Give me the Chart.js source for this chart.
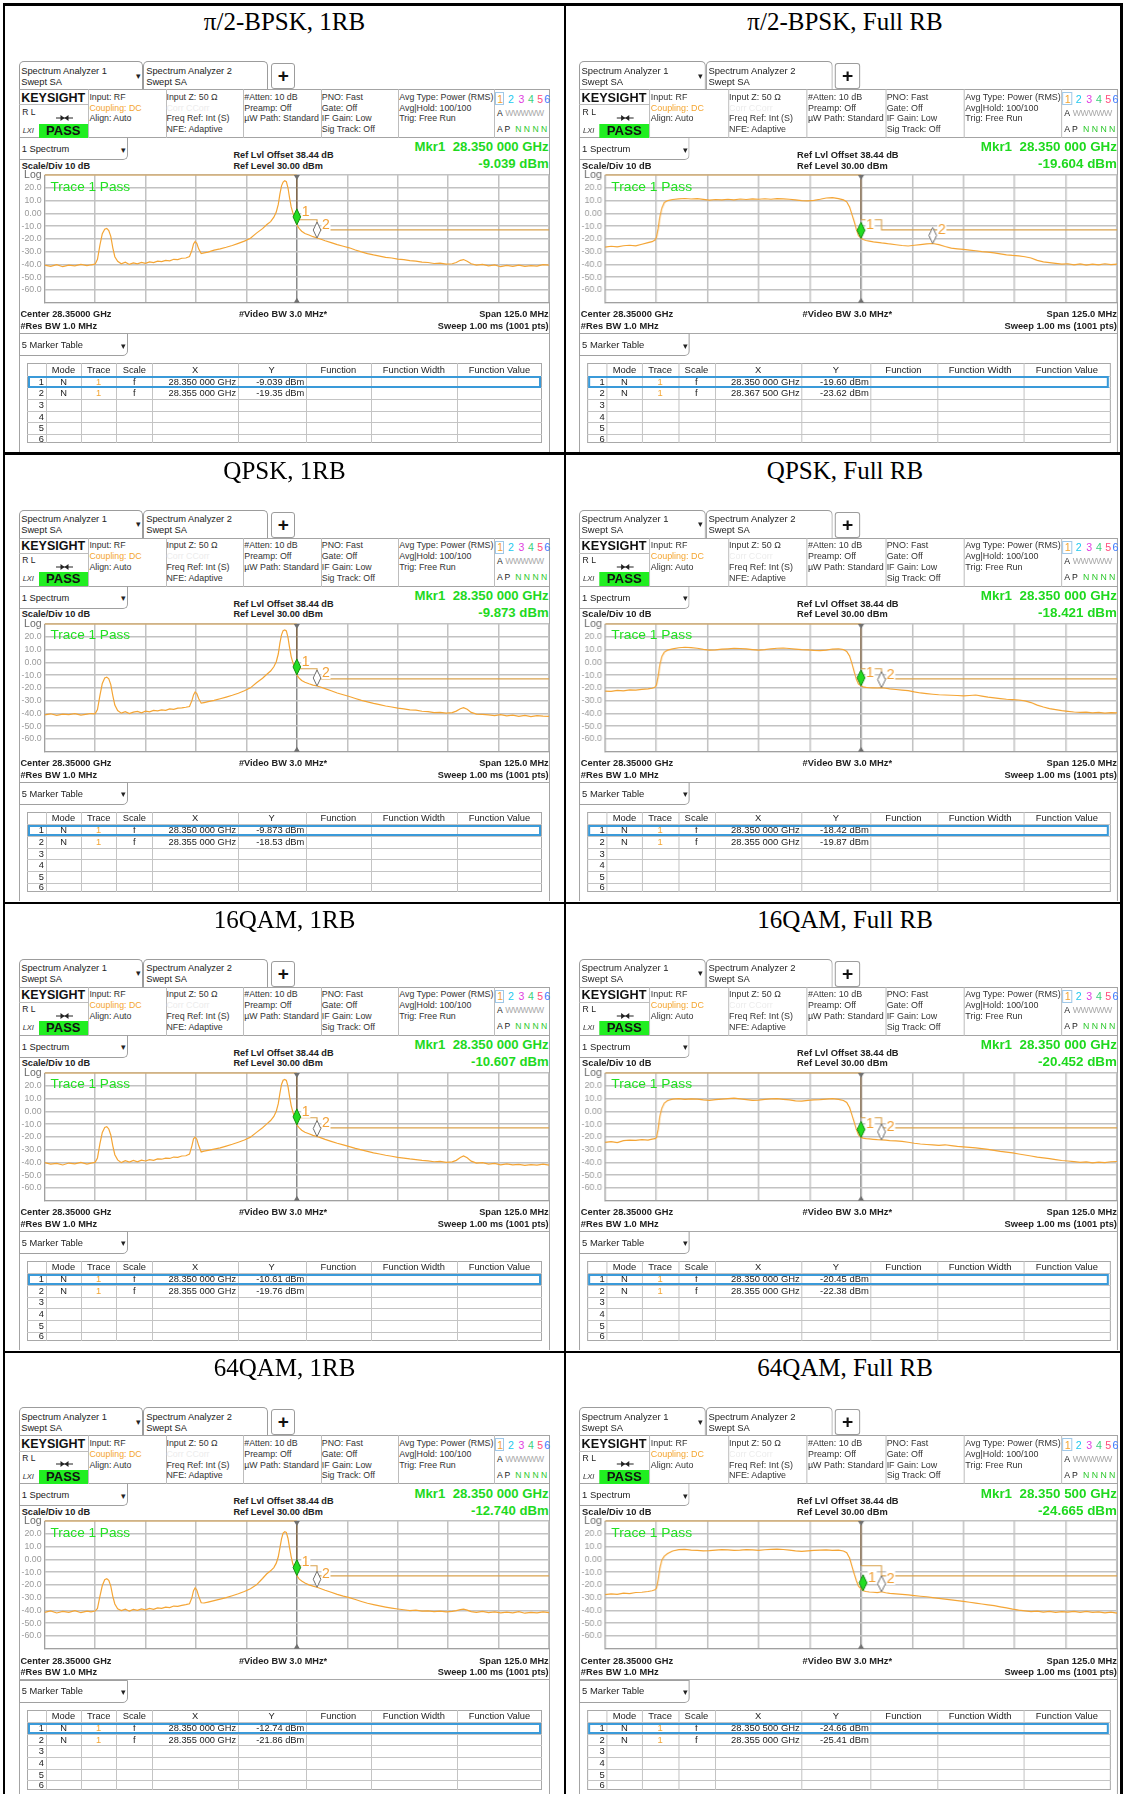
<!DOCTYPE html>
<html lang="en">
<head>
<meta charset="UTF-8" />
<title>Spectrum captures, 28.35 GHz</title>
<script src="https://cdn.jsdelivr.net/npm/chart.js"></script>
<style>
  body { margin: 0; background: #fff; font-family: Arial, "Liberation Sans", sans-serif; color: #222; }
  #page { position: relative; width: 1124px; height: 1794px; overflow: hidden; background: #fff; }
</style>
</head>
<body>
<div id="page"></div>
<script>
  const panelTitles = ['π/2-BPSK, 1RB', 'π/2-BPSK, Full RB', 'QPSK, 1RB', 'QPSK, Full RB',
                       '16QAM, 1RB', '16QAM, Full RB', '64QAM, 1RB', '64QAM, Full RB'];
  const mkr1Freq = ['28.350 000 GHz', '28.350 000 GHz', '28.350 000 GHz', '28.350 000 GHz',
                    '28.350 000 GHz', '28.350 000 GHz', '28.350 000 GHz', '28.350 500 GHz'];
  const mkr1Level = ['-9.039 dBm', '-19.604 dBm', '-9.873 dBm', '-18.421 dBm',
                     '-10.607 dBm', '-20.452 dBm', '-12.740 dBm', '-24.665 dBm'];
  // marker positions, MHz from centre / dBm
  const m1X = [0, 0, 0, 0, 0, 0, 0, 0.5];
  const m1Y = [-9.039, -19.60, -9.873, -18.42, -10.61, -20.45, -12.74, -24.66];
  const m2X = [5, 17.5, 5, 5, 5, 5, 5, 5];
  const m2Y = [-19.35, -23.62, -18.53, -19.87, -19.76, -22.38, -21.86, -25.41];
  const m1XText = ['28.350 000 GHz', '28.350 000 GHz', '28.350 000 GHz', '28.350 000 GHz',
                   '28.350 000 GHz', '28.350 000 GHz', '28.350 000 GHz', '28.350 500 GHz'];
  const m2XText = ['28.355 000 GHz', '28.367 500 GHz', '28.355 000 GHz', '28.355 000 GHz',
                   '28.355 000 GHz', '28.355 000 GHz', '28.355 000 GHz', '28.355 000 GHz'];
  const m1YText = ['-9.039 dBm', '-19.60 dBm', '-9.873 dBm', '-18.42 dBm',
                   '-10.61 dBm', '-20.45 dBm', '-12.74 dBm', '-24.66 dBm'];
  const m2YText = ['-19.35 dBm', '-23.62 dBm', '-18.53 dBm', '-19.87 dBm',
                   '-19.76 dBm', '-22.38 dBm', '-21.86 dBm', '-25.41 dBm'];

  // limit line
  const limitX = [-62.5, 0, 0, 5, 5, 62.5];
  const limitY = [30, 30, -5, -5, -13, -13];

  // frequency offsets (MHz from 28.35 GHz)
  const freq1rb = [
    -62.5, -61, -59.5, -58, -56.5, -55, -53.5, -52, -51, -50,
    -49.4, -48.8, -48.2, -47.6, -47.1, -46.6, -46.1, -45.6, -45.1, -44.4,
    -43.5, -42.5, -41.5, -40.5, -39.5, -38.5, -37.5, -36.5, -35.5, -34.5,
    -33.5, -32.5, -31.5, -30.5, -29.5, -28.5, -27.5, -26.6, -26, -25.6,
    -25.2, -24.8, -24.3, -23.7, -23, -22, -20.5, -19, -17.5, -16,
    -14.5, -13, -11.5, -10, -8.5, -7.5, -6.5, -5.7, -5.1, -4.6,
    -4.2, -3.8, -3.4, -3, -2.6, -2.2, -1.8, -1.4, -1, -0.5,
    0, 0.6, 1.2, 2, 3, 4, 5, 6, 7, 8.5,
    10, 11.5, 13, 14.5, 16, 17.5, 19, 20.5, 22, 23.5,
    25, 26.5, 28, 29.5, 31, 32.5, 34, 35.5, 37, 38.5,
    39.5, 40.5, 41.3, 42.2, 43.2, 44.5, 46, 47.5, 49, 50.5,
    52, 53.5, 55, 56.5, 58, 59.5, 61, 62.5
  ];
  const freqFull = [
    -62.5, -61, -59.5, -58, -56.5, -55, -53.5, -52, -51, -50.3,
    -49.9, -49.5, -49.1, -48.6, -48, -47.2, -46, -44.5, -43, -41.5,
    -40, -38.5, -37, -35.5, -34, -32.5, -31, -29.5, -28, -26.5,
    -25, -23.5, -22, -20.5, -19, -17.5, -16, -14.5, -13, -11.5,
    -10, -8.5, -7, -5.5, -4.3, -3.5, -2.8, -2.2, -1.6, -1.1,
    -0.6, 0, 0.5, 1.2, 2, 3, 4, 5, 6, 7,
    8.5, 10, 11.5, 13, 14.5, 16, 17.5, 19, 20.5, 22,
    23.5, 25, 26.5, 28, 29.5, 31, 32.5, 34, 35.5, 37,
    38.5, 40, 41.5, 43, 44.5, 46, 47.5, 49, 50.5, 52,
    53.5, 55, 56.5, 58, 59.5, 61, 62.5
  ];

  // trace levels, dBm
  const levelBpsk1rb = [
    -40.5, -41.5, -40.2, -41.8, -40.6, -41.2, -40.0, -41.0, -40.3, -39.8,
    -36, -25, -16, -12.5, -11.8, -13.5, -18, -27, -34, -37.5,
    -39.5, -38.2, -40.0, -38.8, -39.6, -38.5, -39.2, -38.0, -38.6, -37.5,
    -37.8, -36.9, -37.2, -36.0, -36.3, -35.2, -35.0, -33.8, -29, -24,
    -22, -23.5, -28, -31.5, -31, -30.4, -28.8, -27.8, -26.6, -25.2,
    -23.5, -21.8, -19.5, -15.5, -12, -9, -6.5, -3, 1, 7,
    15, 21.5, 24.5, 25.5, 24.8, 20, 12, 5, 0.5, -4.5,
    -9.0, -12, -14, -15.8, -17, -18.3, -19.35, -20.3, -21.5, -23,
    -24.5, -25.8, -27, -28.7, -30.2, -31.5, -32.6, -33.5, -34.5, -35,
    -35.8, -36.3, -37, -37.4, -38.2, -38.5, -39.3, -39, -39.8, -39.5,
    -38.5, -36.8, -36.2, -37.5, -39.5, -40.6, -40, -41.2, -40.4, -41.8,
    -40.8, -41.5, -40.5, -41.6, -40.9, -41.3, -40.2, -40.6
  ];
  const levelQpsk1rb = [
    -41.2, -40.3, -41.6, -40.5, -41.0, -40.2, -41.4, -40.6, -40.1, -40.4,
    -37, -26, -16.5, -12.3, -11.6, -13, -17.5, -26, -33.5, -37.8,
    -39.8, -38.6, -40.2, -39.0, -38.4, -39.5, -38.3, -38.8, -37.6, -38.0,
    -37.2, -37.6, -36.5, -36.8, -35.9, -35.6, -35.2, -34.6, -30, -25.5,
    -23.2, -24.5, -28.5, -32, -31.5, -30.8, -29.8, -28.5, -27.2, -25.8,
    -24.2, -22.3, -20, -16, -12.5, -9.5, -6.8, -3.5, 0.5, 6.5,
    15, 21.5, 24.8, 25.4, 24.6, 19.5, 11.5, 4.5, 0, -5,
    -9.87, -12.5, -14.2, -15.6, -16.8, -17.8, -18.53, -19.5, -20.6, -22.3,
    -24, -25.4, -26.8, -28.3, -29.8, -31, -32.2, -33.1, -34.2, -35,
    -35.8, -36.4, -37.2, -37.5, -38.3, -38.6, -39.4, -39.2, -39.8, -39.4,
    -38.2, -36.4, -35.5, -36.8, -39.2, -40.5, -40.8, -41.2, -41.8, -41.0,
    -42.0, -41.4, -42.3, -41.6, -42.5, -41.8, -42.2, -42.4
  ];
  const level16qam1rb = [
    -40.2, -41.4, -40.8, -42.0, -40.5, -41.2, -40.0, -41.3, -40.6, -40.0,
    -36.5, -25.5, -16.5, -12.6, -12, -13.8, -18.5, -27, -34, -38,
    -40.2, -38.6, -39.8, -38.4, -39.6, -38.2, -38.9, -37.8, -38.4, -37.2,
    -37.5, -36.6, -36.9, -35.8, -36.0, -35.0, -34.8, -33.5, -27, -21.5,
    -20.2, -21.8, -27, -31.8, -31.2, -30.6, -29.6, -28.6, -27.2, -25.8,
    -24.2, -22.5, -20.2, -16.5, -12.8, -10, -7.2, -4, 0, 6,
    14, 21, 24.3, 25, 24.2, 19.5, 11.5, 4.5, -0.5, -5.5,
    -10.61, -13, -14.8, -16.4, -17.6, -18.8, -19.76, -20.8, -22, -23.5,
    -25, -26.3, -27.6, -29, -30.2, -31.4, -32.5, -33.4, -34.4, -35.2,
    -36, -36.6, -37.3, -37.8, -38.4, -38.8, -39.5, -39.2, -40, -39.6,
    -38.4, -36.2, -35, -36.4, -39, -40.6, -40.2, -41.4, -40.8, -41.9,
    -41.2, -42.0, -41.5, -42.3, -41.7, -42.1, -41.4, -42.2
  ];
  const level64qam1rb = [
    -41.6, -40.4, -42.0, -40.8, -41.5, -40.2, -41.8, -40.6, -41.2, -40.5,
    -38.5, -29, -20.5, -16, -15.2, -16.5, -21, -29, -35, -38.8,
    -40.2, -39.0, -40.6, -39.2, -40.0, -38.8, -39.6, -38.5, -39.2, -38.0,
    -38.4, -37.5, -37.8, -36.6, -36.8, -36.0, -35.5, -34.8, -30, -24.5,
    -22.4, -24, -29, -34, -34.2, -33.5, -32.4, -31.2, -30, -28.5,
    -27, -25.2, -23, -20, -15, -11.5, -9, -6.5, -3, 2,
    9, 16, 20.5, 21.6, 21, 16.5, 9, 2, -3.5, -8,
    -12.74, -15.5, -17, -18.6, -20, -21, -21.86, -23, -24.2, -25.8,
    -27.4, -28.8, -30, -31.5, -33, -34.4, -35.5, -36.5, -37.4, -38.2,
    -38.9, -39.5, -40.2, -39.8, -40.6, -40.3, -41, -40.5, -41.2, -40.8,
    -40.2, -39.4, -39, -39.8, -41, -41.6, -40.8, -41.8, -41.2, -42,
    -41.3, -41.9, -41.0, -42.2, -41.5, -42.0, -41.2, -41.7
  ];
  const levelBpskFull = [
    -26.5, -25.8, -26.3, -25.4, -25.0, -25.5, -24.2, -23.0, -22.2, -21.0,
    -18.5, -12, -3, 4, 8.5, 10, 10.8, 11.3, 11.6, 11.2,
    11.5, 10.9, 10.3, 10.8, 10.5, 11.0, 10.6, 11.2, 10.8, 11.3,
    11.0, 11.4, 11.0, 11.5, 11.3, 11.0, 10.5, 10.0, 9.8, 10.2,
    11.0, 12.0, 12.3, 11.5, 10.5, 9, 5, -1, -7, -13,
    -17.5, -19.6, -20.5, -21.3, -21.8, -22.4, -22.8, -23.2, -23.5, -24,
    -24.6, -25.2, -25.6, -25.0, -24.5, -24.0, -23.62, -24.5, -26, -27.2,
    -27.8, -28.3, -28.8, -29.3, -30.0, -30.4, -31.0, -31.8, -32.5, -33.0,
    -33.3, -34, -35, -36.8, -38, -38.6, -39.2, -39.8, -39.5, -40.4,
    -39.6, -40.5, -39.8, -40.3, -39.5, -40.2, -39.8
  ];
  const levelQpskFull = [
    -22.5, -22.8, -22.0, -22.4, -21.6, -21.8, -21.2, -20.8, -20.3, -19.5,
    -17.5, -11, -2, 4.5, 8, 9.5, 10.5, 11.4, 11.8, 11.5,
    11.0, 10.2, 9.6, 9.8, 10.3, 10.6, 11.0, 10.8, 10.5, 10.0,
    9.6, 10.0, 10.6, 11.0, 11.2, 10.8, 10.4, 10.0, 9.8, 9.4,
    9.2, 9.6, 10.4, 10.6, 10.0, 8.5, 5, -1, -8, -13.5,
    -17, -18.42, -19.2, -19.6, -19.9, -20.0, -20.1, -19.87, -20.3, -20.8,
    -21.3, -21.8, -22.2, -23.2, -24.0, -24.5, -25.0, -25.4, -25.6, -25.8,
    -26.0, -26.3, -26.0, -25.6, -26.4, -27.2, -27.8, -28.4, -28.9, -29.2,
    -29.5, -30.2, -31.5, -33.5, -35.0, -36.2, -37.0, -37.8, -38.4, -38.9,
    -39.2, -39.0, -39.6, -39.2, -39.8, -39.4, -39.6
  ];
  const level16qamFull = [
    -24.3, -23.8, -24.5, -23.0, -22.6, -22.8, -22.2, -22.5, -21.8, -21.4,
    -20.5, -14, -4, 2.5, 6.5, 8.5, 9.6, 10.0, 9.4, 9.8,
    9.6, 9.0, 8.6, 9.2, 9.6, 10.0, 10.4, 9.8, 9.2, 8.6,
    8.8, 9.4, 9.7, 9.9, 9.4, 9.0, 8.2, 8.0, 8.6, 9.0,
    9.2, 9.6, 10.0, 9.4, 8.5, 7, 3, -3, -9, -14.5,
    -18.5, -20.45, -21.0, -21.4, -21.6, -21.9, -22.2, -22.38, -22.6, -22.9,
    -23.2, -23.5, -24.2, -25.0, -25.6, -26.0, -26.3, -26.6, -26.2, -26.8,
    -27.4, -27.8, -28.2, -28.6, -29.2, -29.8, -30.6, -31.4, -32.0, -32.6,
    -33.4, -34.2, -35.0, -35.8, -36.4, -37.0, -37.8, -38.5, -38.9, -39.4,
    -40.0, -39.6, -40.4, -39.8, -40.2, -39.5, -39.3
  ];
  const level64qamFull = [
    -27.7, -27.0, -27.4, -26.5, -26.8, -26.0, -25.8, -25.2, -24.6, -23.8,
    -22.5, -16, -7, -0.5, 2.5, 4.5, 6.5, 7.6, 7.8, 7.2,
    7.0, 6.6, 6.8, 7.2, 7.6, 7.4, 7.0, 7.2, 7.6, 7.4,
    7.0, 7.5, 7.8, 8.0, 7.7, 7.2, 6.6, 6.2, 6.6, 7.0,
    7.2, 7.4, 7.0, 7.2, 6.5, 5.2, 1, -5.5, -12, -17,
    -21, -23.2, -24.66, -25.2, -25.6, -25.8, -26.0, -25.41, -26.2, -26.6,
    -27.0, -27.4, -27.8, -28.4, -28.9, -29.3, -30.0, -30.6, -31.2, -31.8,
    -32.3, -33.0, -33.6, -34.3, -35.0, -35.6, -36.3, -37.2, -38.0, -39.0,
    -39.8, -40.4, -41.0, -40.6, -41.4, -40.8, -41.6, -40.9, -41.3, -40.7,
    -41.5, -40.8, -41.6, -41.2, -42.0, -41.4, -42.2
  ];

  const traces = [
    [freq1rb, levelBpsk1rb], [freqFull, levelBpskFull],
    [freq1rb, levelQpsk1rb], [freqFull, levelQpskFull],
    [freq1rb, level16qam1rb], [freqFull, level16qamFull],
    [freq1rb, level64qam1rb], [freqFull, level64qamFull]
  ];

  // ---- layout ----
  const ROW_PITCH = 448.8;
  const SW = 531;          // analyzer screen width (left column)
  const page = document.getElementById('page');

  function div(parent, x, y, w, h, css) {
    const d = document.createElement('div');
    d.style.cssText = `position:absolute;left:${x}px;top:${y}px;width:${w}px;height:${h}px;box-sizing:border-box;` + (css || '');
    parent.appendChild(d);
    return d;
  }

  function text(parent, x, y, str, css, align) {
    const d = document.createElement('div');
    d.textContent = str;
    let pos = `left:${x}px;`;
    if (align === 'right') pos = `left:${x - 400}px;width:400px;text-align:right;`;
    if (align === 'center') pos = `left:${x - 200}px;width:400px;text-align:center;`;
    d.style.cssText = `position:absolute;${pos}top:${y - 8}px;height:16px;line-height:16px;white-space:nowrap;` + (css || '');
    parent.appendChild(d);
    return d;
  }

  // draws diamonds, marker numbers and the centre triangles
  const markerPlugin = {
    id: 'mkr',
    afterDatasetsDraw(chart) {
      const { ctx, chartArea } = chart;
      const xs = chart.scales.x, ys = chart.scales.y;
      const o = chart.options.plugins.mkr;
      const cx = xs.getPixelForValue(0);
      ctx.save();
      ctx.fillStyle = '#707070';
      ctx.beginPath();
      ctx.moveTo(cx - 3, chartArea.top); ctx.lineTo(cx + 3, chartArea.top); ctx.lineTo(cx, chartArea.top + 5);
      ctx.fill();
      ctx.beginPath();
      ctx.moveTo(cx - 3, chartArea.bottom); ctx.lineTo(cx + 3, chartArea.bottom); ctx.lineTo(cx, chartArea.bottom - 5);
      ctx.fill();

      const draw = (mx, my, fill, stroke, label) => {
        const px = xs.getPixelForValue(mx), py = ys.getPixelForValue(my);
        ctx.fillStyle = '#fff';
        ctx.fillRect(px + 4.5, py - 21, 9, 14);
        ctx.font = '14px Arial, "Liberation Sans", sans-serif';
        ctx.fillStyle = '#f2a23a';
        ctx.textBaseline = 'middle';
        ctx.fillText(label, px + 5, py - 13);
        ctx.beginPath();
        ctx.moveTo(px, py); ctx.lineTo(px + 3.8, py - 8); ctx.lineTo(px, py - 16); ctx.lineTo(px - 3.8, py - 8);
        ctx.closePath();
        ctx.fillStyle = fill; ctx.fill();
        ctx.lineWidth = 1; ctx.strokeStyle = stroke; ctx.stroke();
      };
      draw(o.x2, o.y2, '#ffffff', '#707070', '2');
      draw(o.x1, o.y1, '#22dd22', '#138a13', '1');
      ctx.restore();
    }
  };

  function buildPanel(i) {
    const col = i % 2, row = Math.floor(i / 2);
    const top0 = row * ROW_PITCH;

    text(page, col === 0 ? 284.5 : 845, 22 + top0, panelTitles[i],
      'font-family:"Liberation Serif","Times New Roman",serif;font-size:25px;color:#000;', 'center');

    const scr = div(page, col === 0 ? 18.7 : 579.3, 61 + top0, SW + 1, 391,
      `overflow:hidden;transform-origin:0 0;transform:scaleX(${col === 0 ? 1 : 1.015});`);

    const small = 'font-size:9.3px;color:#222;';
    const hdr = 'font-size:8.8px;color:#333;';
    const bold = 'font-size:9.2px;font-weight:bold;color:#222;';

    // tabs
    const tab = 'border:1px solid #9c9c9c;border-bottom:none;border-radius:5px 5px 0 0;';
    div(scr, 0, 0, 124.7, 28.5, tab);
    div(scr, 124.7, 0, 125, 28.5, tab);
    text(scr, 2.5, 9.5, 'Spectrum Analyzer 1', small);
    text(scr, 2.5, 20.5, 'Swept SA', small);
    text(scr, 117.5, 14.5, '▾', 'font-size:9px;');
    text(scr, 127.5, 9.5, 'Spectrum Analyzer 2', small);
    text(scr, 127.5, 20.5, 'Swept SA', small);
    div(scr, 252.3, 2, 24.5, 26, 'border:1px solid #9c9c9c;border-radius:3px;');
    text(scr, 264.6, 15, '+', 'font-size:19px;font-weight:bold;color:#111;', 'center');

    // status header
    div(scr, 0, 28, SW, 49, 'border:1px solid #a4a4a4;');
    [69, 147.1, 224.3, 302, 379.3, 475].forEach(sx => div(scr, sx, 28, 1, 49, 'background:#bdbdbd;'));
    div(scr, 0, 43.3, 69, 1, 'background:#bdbdbd;');
    text(scr, 2.5, 36.5, 'KEYSIGHT', 'font-size:12.5px;font-weight:bold;color:#111;');
    text(scr, 3.5, 50.5, 'R L', 'font-size:8.5px;color:#222;');
    const arrow = div(scr, 37, 47, 17, 8, '');
    arrow.innerHTML = '<svg width="17" height="8"><line x1="0" y1="4" x2="17" y2="4" stroke="#222" stroke-width="1"/>' +
      '<polygon points="4.5,1 8.5,4 4.5,7" fill="#222"/><polygon points="12.5,1 8.5,4 12.5,7" fill="#222"/></svg>';
    text(scr, 4, 69.5, 'LXI', 'font-size:7.5px;font-style:italic;color:#333;');
    div(scr, 20.3, 62.5, 48.7, 14, 'background:#21ee21;');
    text(scr, 44.6, 69.6, 'PASS', 'font-size:13px;font-weight:bold;color:#111;', 'center');

    const lineY = [35.7, 46.5, 57.3, 68];
    const cols = [
      [70.7, ['Input: RF', 'Coupling: DC', 'Align: Auto']],
      [147.8, ['Input Z: 50 Ω', 'Corr CCorr', 'Freq Ref: Int (S)', 'NFE: Adaptive']],
      [225.6, ['#Atten: 10 dB', 'Preamp: Off', 'µW Path: Standard']],
      [303.1, ['PNO: Fast', 'Gate: Off', 'IF Gain: Low', 'Sig Track: Off']],
      [380.6, ['Avg Type: Power (RMS)', 'Avg|Hold: 100/100', 'Trig: Free Run']]
    ];
    cols.forEach(([cx, lines]) => lines.forEach((s, k) => {
      let css = hdr;
      if (s === 'Coupling: DC') css += 'color:#f4a530;';
      if (s === 'Corr CCorr') css += 'color:#ececec;';
      text(scr, cx, lineY[k], s, css);
    }));
    const traceNums = ['1', '2', '3', '4', '5', '6'];
    const traceCols = ['#f4a530', '#22c8ee', '#e040e0', '#3ad07a', '#ff4a7a', '#3a78ff'];
    const numX = [478.6, 489.3, 499.8, 509.3, 518.6, 525.6];
    div(scr, 476.2, 31, 9.5, 13, 'border:1px solid #9fc8e8;');
    traceNums.forEach((s, k) => text(scr, numX[k], 37.5, s, `font-size:10.5px;color:${traceCols[k]};`));
    text(scr, 478.2, 51.5, 'A', 'font-size:8.6px;color:#222;');
    text(scr, 486.5, 51.5, 'WWWWW', 'font-size:8.6px;color:#a8a8a8;letter-spacing:-0.4px;');
    text(scr, 478.2, 67.5, 'A P', 'font-size:8.6px;color:#222;');
    text(scr, 496.5, 67.5, 'N N N N', 'font-size:8.6px;color:#2ac82a;');

    // spectrum window
    div(scr, 0, 76, SW, 330, 'border-left:1px solid #a4a4a4;border-right:1px solid #a4a4a4;');
    div(scr, 0, 76.5, 109.3, 22.5, 'border:1px solid #a0a0a0;border-top:none;border-radius:0 0 5px 0;');
    text(scr, 3, 88, '1 Spectrum', small);
    text(scr, 102, 88.5, '▾', 'font-size:9px;');
    text(scr, 214.8, 94, 'Ref Lvl Offset 38.44 dB', bold);
    text(scr, 214.8, 104.7, 'Ref Level 30.00 dBm', bold);
    text(scr, 3, 104.7, 'Scale/Div 10 dB', bold);
    const green = 'font-size:13.2px;font-weight:bold;color:#1ed91e;';
    text(scr, 530, 86.3, 'Mkr1  ' + mkr1Freq[i], green + 'white-space:pre;', 'right');
    text(scr, 530, 103.3, mkr1Level[i], green, 'right');

    const cv = document.createElement('canvas');
    cv.width = 533; cv.height = 146;
    cv.style.cssText = 'position:absolute;left:0;top:104px;width:533px;height:146px;';
    scr.appendChild(cv);
    text(scr, 31.8, 125.7, 'Trace 1 Pass', 'font-size:13.6px;color:#22e022;');

    text(scr, 1.8, 253.3, 'Center 28.35000 GHz', bold);
    text(scr, 220.3, 253.3, '#Video BW 3.0 MHz*', bold);
    text(scr, 530, 253.3, 'Span 125.0 MHz', bold, 'right');
    text(scr, 1.8, 265, '#Res BW 1.0 MHz', bold);
    text(scr, 530, 265, 'Sweep 1.00 ms (1001 pts)', bold, 'right');
    div(scr, 0, 272, SW, 1, 'background:#a8a8a8;');

    // marker table
    div(scr, 0, 272.3, 109.3, 23, 'border:1px solid #a0a0a0;border-radius:0 0 5px 0;');
    text(scr, 3, 284, '5 Marker Table', small);
    text(scr, 102, 284.5, '▾', 'font-size:9px;');
    const cb = [8.3, 27.3, 62.3, 97.7, 133.7, 219.1, 286.9, 352.5, 437.9, 523.6];
    const rb = [302.3, 314.7, 326.3, 338, 349.7, 361.3, 373, 382.3];
    div(scr, cb[0], rb[0], cb[9] - cb[0], rb[7] - rb[0], 'border:1px solid #a8a8a8;');
    cb.slice(1, 9).forEach(x => div(scr, x, rb[0], 1, rb[7] - rb[0], 'background:#c4c4c4;'));
    rb.slice(1, 7).forEach(y => div(scr, cb[0], y, cb[9] - cb[0], 1, 'background:#c4c4c4;'));
    const heads = ['Mode', 'Trace', 'Scale', 'X', 'Y', 'Function', 'Function Width', 'Function Value'];
    heads.forEach((h, k) => text(scr, (cb[k + 1] + cb[k + 2]) / 2, (rb[0] + rb[1]) / 2, h, small, 'center'));
    for (let r = 0; r < 6; r++) {
      const yc = (rb[r + 1] + rb[r + 2]) / 2;
      text(scr, 25.3, yc, String(r + 1), small, 'right');
    }
    const rows = [[m1XText[i], m1YText[i]], [m2XText[i], m2YText[i]]];
    rows.forEach(([xs, ys], r) => {
      const yc = (rb[r + 1] + rb[r + 2]) / 2;
      text(scr, 44.8, yc, 'N', small, 'center');
      text(scr, 80, yc, '1', small + 'color:#f4a530;', 'center');
      text(scr, 115.7, yc, 'f', small, 'center');
      text(scr, 217.5, yc, xs, small, 'right');
      text(scr, 285.6, yc, ys, small, 'right');
    });
    div(scr, 9.4, 315.3, 512.6, 11.4, 'border:2px solid #3a9ad9;');

    // the plot itself
    const [fx, lv] = traces[i];
    if (fx.length !== lv.length) console.error('length mismatch in panel', i, fx.length, lv.length);
    new Chart(cv, {
      type: 'line',
      data: {
        datasets: [
          {
            data: fx.map((f, k) => ({ x: f, y: lv[k] })),
            borderColor: '#f4a535', borderWidth: 1.2, pointRadius: 0, tension: 0
          },
          {
            data: limitX.map((f, k) => ({ x: f, y: limitY[k] })),
            borderColor: '#d9a24e', borderWidth: 1.1, pointRadius: 0, tension: 0, clip: 3,
            segment: {
              borderColor: c => (c.p0.parsed.x === 0 && c.p1.parsed.x === 0) ? '#7d5a32' : undefined
            }
          }
        ]
      },
      options: {
        responsive: false,
        animation: false,
        events: [],
        layout: { padding: { top: 10, bottom: 4.3, left: 0, right: 2.9 } },
        plugins: {
          legend: { display: false },
          tooltip: { enabled: false },
          mkr: { x1: m1X[i], y1: m1Y[i], x2: m2X[i], y2: m2Y[i] }
        },
        scales: {
          x: {
            type: 'linear', min: -62.5, max: 62.5,
            ticks: { display: false, stepSize: 12.5, autoSkip: false },
            grid: {
              drawTicks: false, lineWidth: 1.5,
              color: c => (c.tick && c.tick.value === 0) ? '#8a8a8a' : '#c2c2c2'
            },
            border: { color: '#a0a0a0' },
            afterFit: s => { s.height = 0; }
          },
          y: {
            min: -70, max: 30,
            ticks: {
              stepSize: 10, padding: 3, autoSkip: false,
              callback: v => v === 30 ? 'Log' : v === -70 ? '' : v === 0 ? '0.00' : v.toFixed(1),
              color: c => (c.tick && c.tick.value === 30) ? '#6a6a6a' : '#9a9a9a',
              font: c => ({ size: (c.tick && c.tick.value === 30) ? 10.5 : 8.8, family: 'Arial, "Liberation Sans", sans-serif' })
            },
            grid: { drawTicks: false, lineWidth: 1.5, color: '#c2c2c2' },
            border: { color: '#a0a0a0' },
            afterFit: s => { s.width = 25.6; }
          }
        }
      },
      plugins: [markerPlugin]
    });
  }

  for (let i = 0; i < 8; i++) buildPanel(i);

  // table frame around the eight captures
  const lineCss = 'background:#000;';
  div(page, 2.5, 3, 2.5, 1791, lineCss);
  div(page, 563.8, 3, 2.5, 1791, lineCss);
  div(page, 1120, 3, 2.5, 1791, lineCss);
  div(page, 2.5, 3, 1120, 2.5, lineCss);
  for (let r = 1; r < 4; r++) div(page, 2.5, 4.5 + r * 449.2 - 1.25, 1120, 2.5, lineCss);
</script>
</body>
</html>
